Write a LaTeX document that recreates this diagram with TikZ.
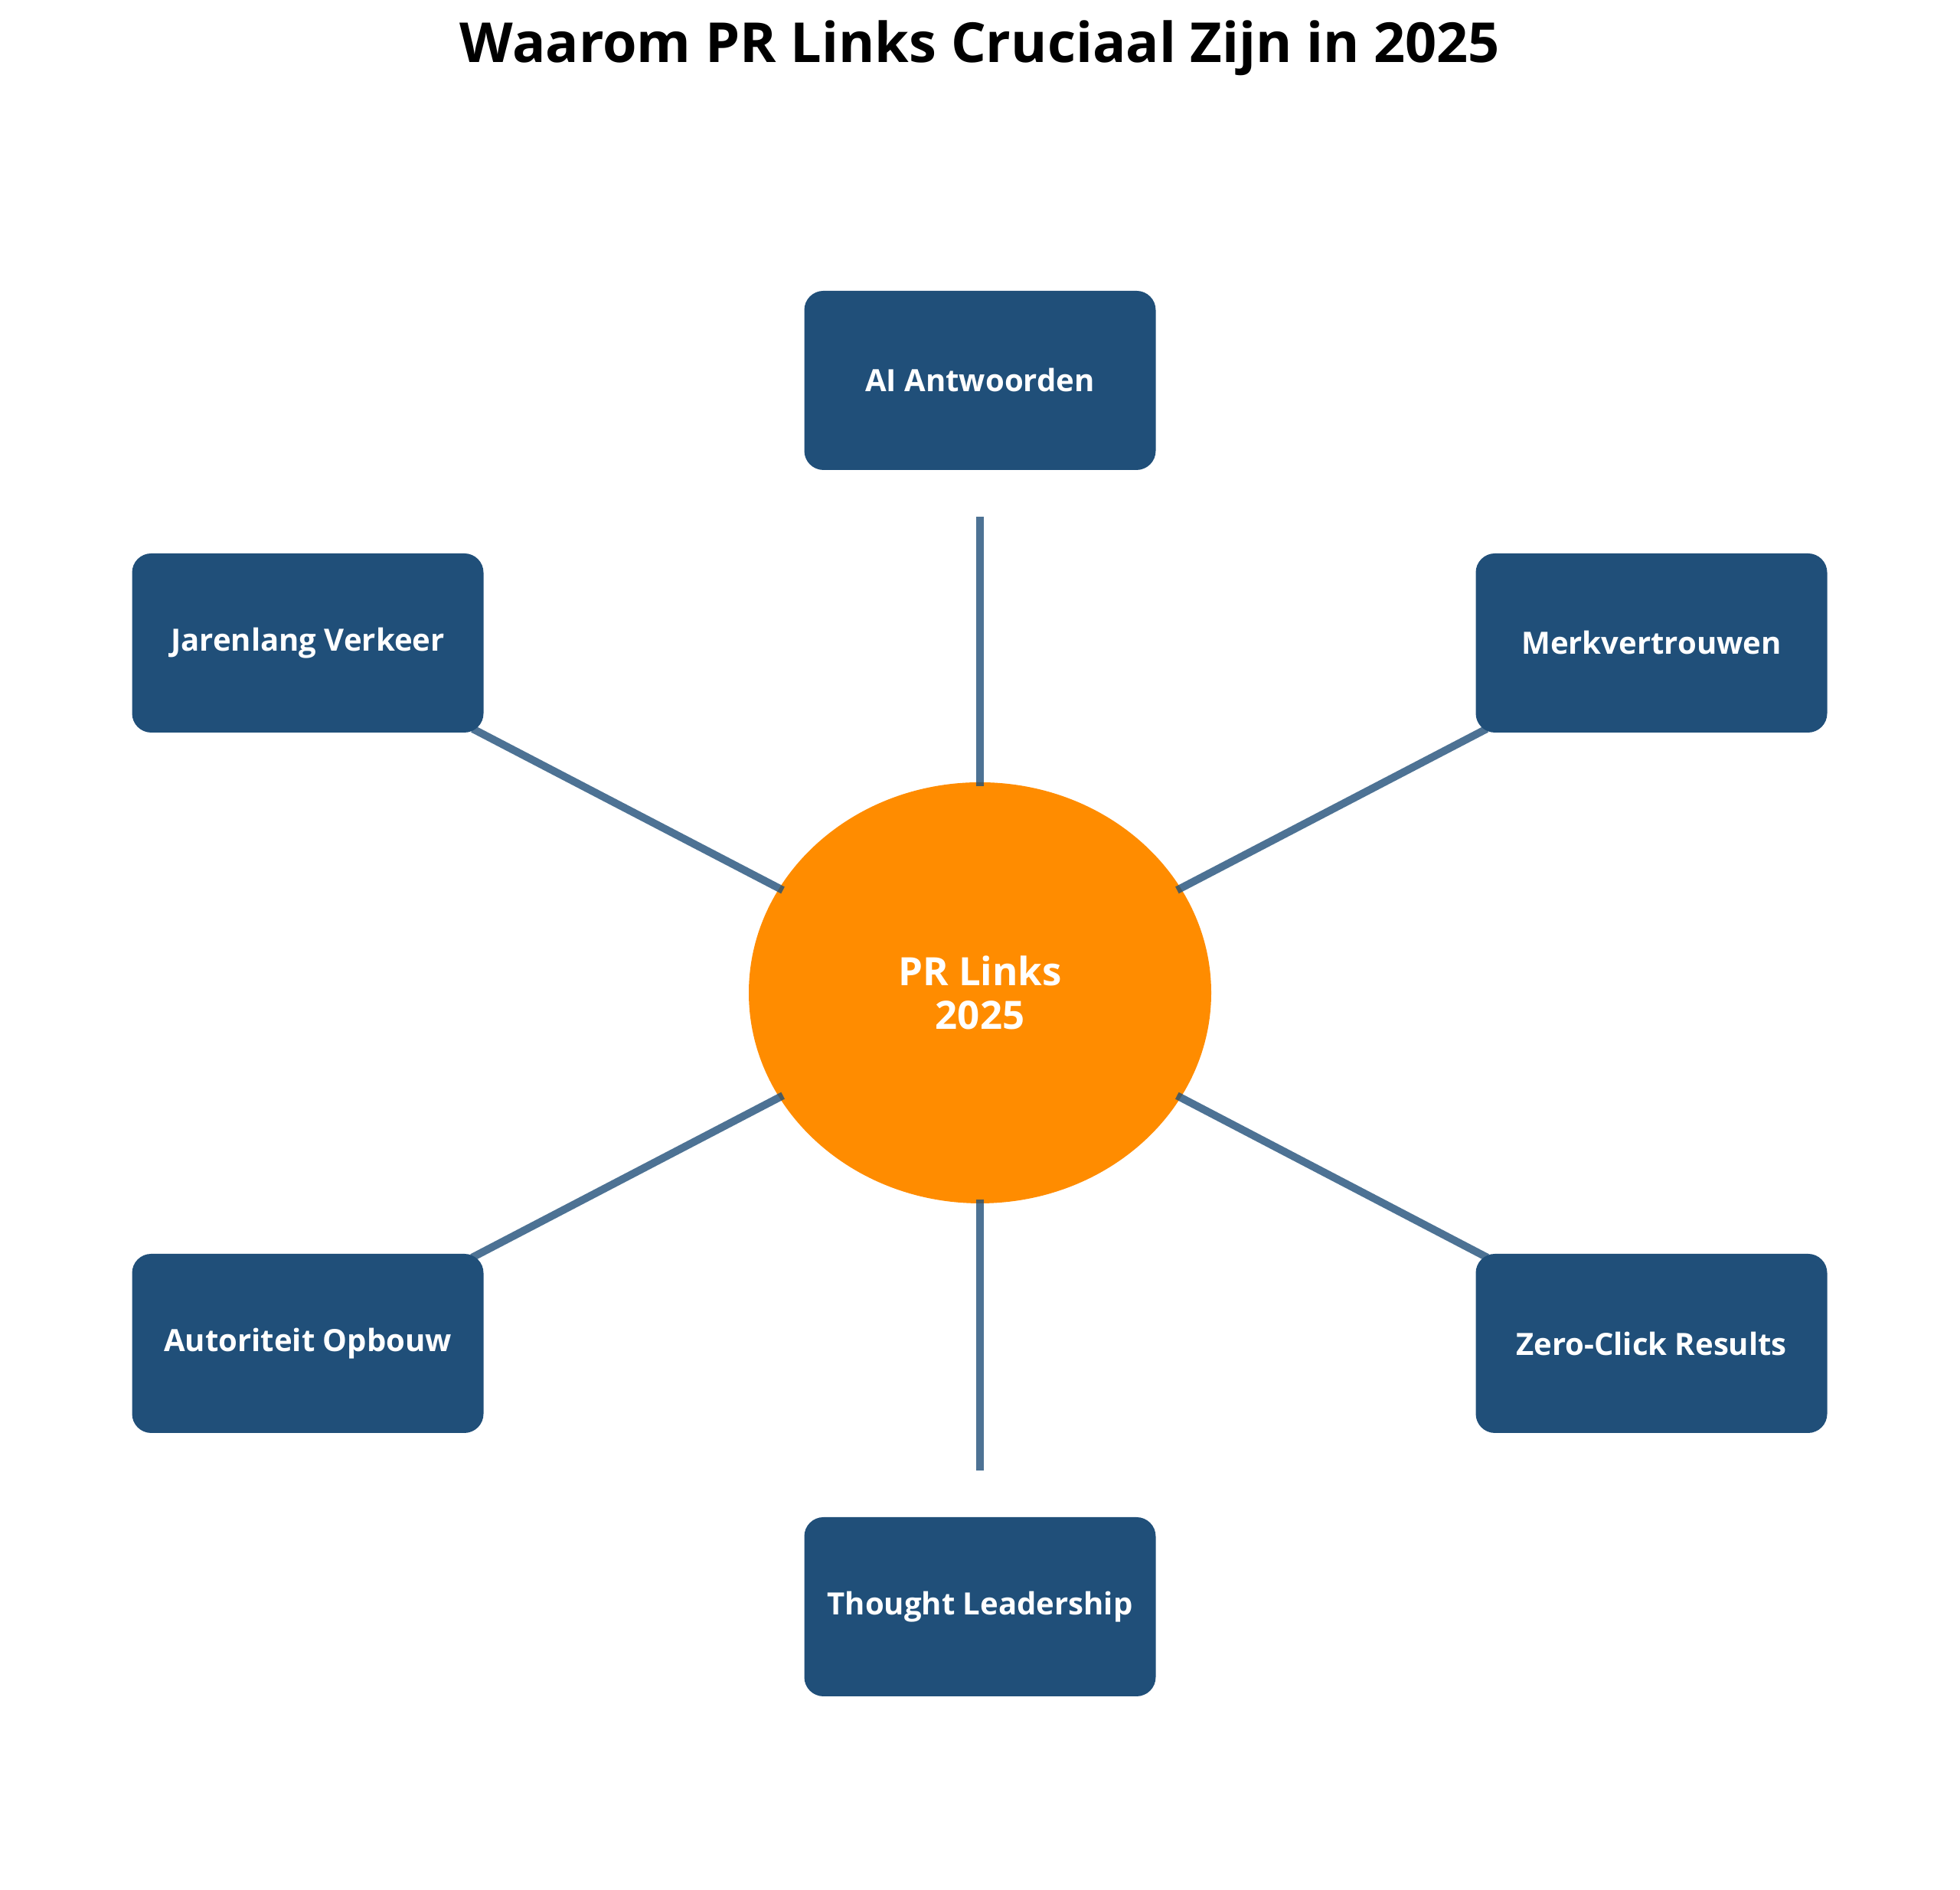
\documentclass[tikz,border=0pt]{standalone}
\usepackage{fontspec}
\setmainfont{Open Sans}
\usepackage{xcolor}
\usetikzlibrary{shapes.geometric}
\definecolor{boxblue}{HTML}{204F79}
\definecolor{huborange}{HTML}{FF8C00}
\tikzset{
    leafbox/.style={rectangle, rounded corners=0.25cm, fill=boxblue, text=white,
        font=\bfseries\fontsize{11.4}{14}\selectfont, minimum width=4.59cm, minimum height=2.34cm, inner sep=0},
    hubnode/.style={ellipse, fill=huborange, text=white, align=center,
        font=\bfseries\fontsize{14.5}{16.4}\selectfont, minimum width=6.04cm, minimum height=5.5cm, inner sep=0},
    spoke/.style={draw=boxblue, opacity=0.8, line width=0.1cm, shorten <=-0.06cm}
}

\begin{document}
\begin{tikzpicture}
        \useasboundingbox (0,0) rectangle (25.6,24.69);
        \node[anchor=base, font=\bfseries\fontsize{20.5}{24}\selectfont] (title) at (12.8,23.87) {Waarom PR Links Cruciaal Zijn in 2025};
        \node[hubnode] (hub) at (12.8,11.72) {PR Links\\2025};
        \node[leafbox] (ai) at (12.8,19.72) {AI Antwoorden};
        \node[leafbox] (merk) at (21.57,16.29) {Merkvertrouwen};
        \node[leafbox] (zero) at (21.57,7.14) {Zero-Click Results};
        \node[leafbox] (thought) at (12.8,3.7) {Thought Leadership};
        \node[leafbox] (autor) at (4.02,7.14) {Autoriteit Opbouw};
        \node[leafbox] (jaren) at (4.02,16.29) {Jarenlang Verkeer};
        %\draw[dashed] (hub) circle (8);
        \draw[spoke, shorten >=0.6cm] (hub) -- (ai);
        \draw[spoke, shorten >=0.6cm] (hub) -- (thought);
        \foreach \leaf in {merk, zero, autor, jaren}
            \draw[spoke, shorten >=-0.12cm] (hub) -- (\leaf);
    \end{tikzpicture}
\end{document}
